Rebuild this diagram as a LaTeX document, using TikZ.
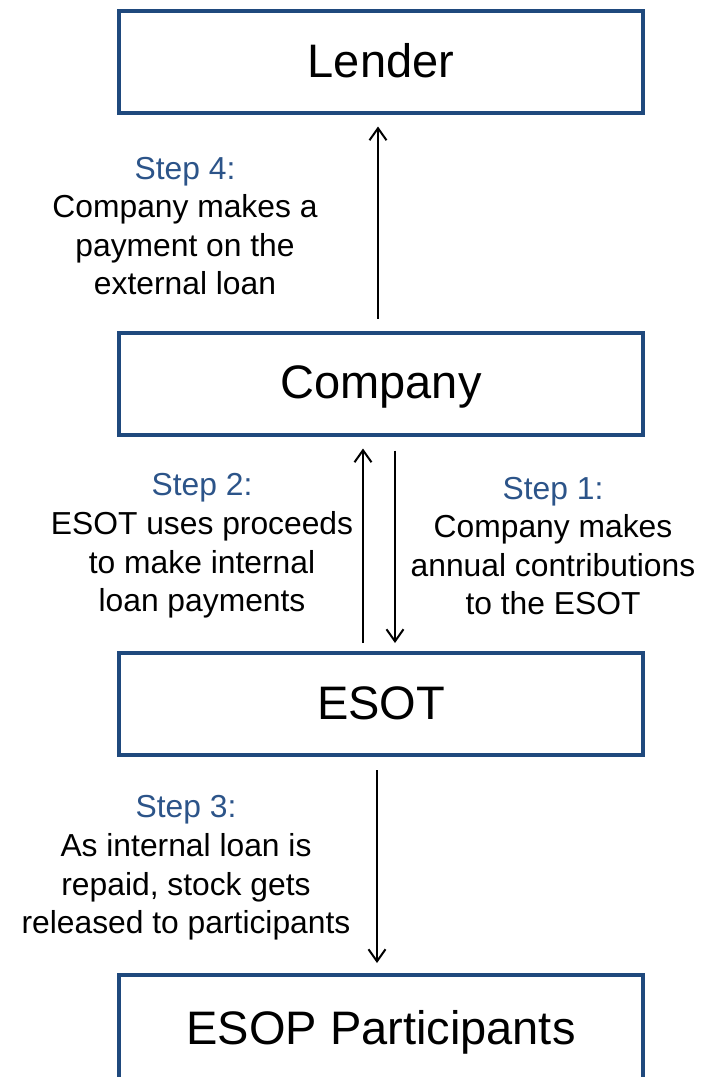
\documentclass[tikz,border=0pt]{standalone}
\usepackage{fontspec}
\setmainfont{Liberation Sans}
\usepackage{xcolor}
\usetikzlibrary{arrows.meta}
\definecolor{boxblue}{RGB}{31,73,125}
\definecolor{stepblue}{RGB}{44,84,137}
\tikzstyle{box} = [draw=boxblue,line width=4pt,minimum width=524pt,minimum height=102pt,text depth=2pt,font=\fontsize{47}{56}\selectfont]
\tikzstyle{arrow} = [line width=2pt,-{Straight Barb[length=12pt,width=17pt]}]
\tikzstyle{lbl} = [align=center,inner sep=0pt,font=\fontsize{31.8}{38.6}\selectfont]
\newcommand{\stepc}[1]{{\color{stepblue} #1}}

\begin{document}
\begin{tikzpicture}[x=1pt,y=-1pt]
    \useasboundingbox (0,0) rectangle (717,1077);
            \node[box] (lender) at (381,61.5) {Lender};
            \node[box] (company) at (381,383.5) {Company};
            \node[box] (esot) at (381,704) {ESOT};
            \node[box, minimum height=106pt] (part) at (381,1028) {ESOP Participants};
            \node[lbl] (s4) at (185,226) {\stepc{Step 4:}\\Company makes a\\payment on the\\external loan};
            \node[lbl] (s2) at (202,546) {\stepc{Step 2:}\\ESOT uses proceeds\\to make internal\\loan payments};
            \node[lbl] (s1) at (553,546) {\stepc{Step 1:}\\Company makes\\annual contributions\\to the ESOT};
            \node[lbl] (s3) at (186,868) {\stepc{Step 3:}\\As internal loan is\\repaid, stock gets\\released to participants};
            \draw [arrow] ([xshift=-3pt,yshift=12pt]company.north) -- ([xshift=-3pt,yshift=-12pt]lender.south);
            \draw [arrow] ([xshift=-18pt,yshift=8pt]esot.north) -- ([xshift=-18pt,yshift=-12pt]company.south);
            \draw [arrow] ([xshift=14pt,yshift=-14pt]company.south) -- ([xshift=14pt,yshift=8pt]esot.north);
            \draw [arrow] ([xshift=-4pt,yshift=-13pt]esot.south) -- ([xshift=-4pt,yshift=10pt]part.north);
\end{tikzpicture}
\end{document}
